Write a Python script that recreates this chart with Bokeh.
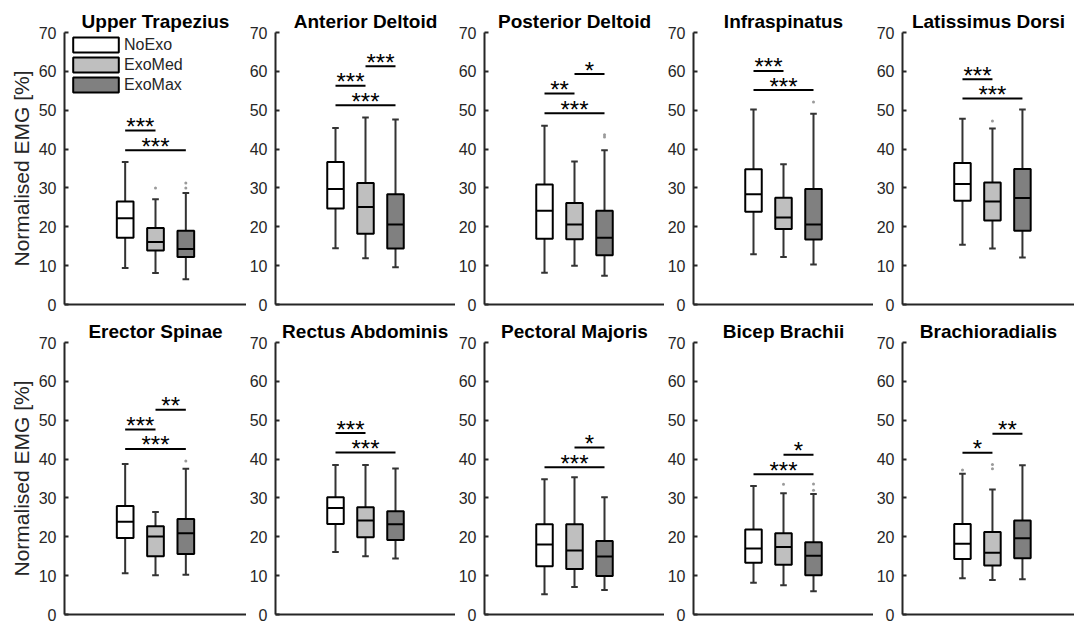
from bokeh.plotting import figure
from bokeh.layouts import column, row
from bokeh.models import ColumnDataSource, Legend, LegendItem, FixedTicker, Range1d
from bokeh.core.properties import value
from bokeh.embed import file_html
from bokeh.resources import INLINE

# ---------------- data ----------------
muscles = ["Upper Trapezius", "Anterior Deltoid", "Posterior Deltoid", "Infraspinatus",
           "Latissimus Dorsi", "Erector Spinae", "Rectus Abdominis", "Pectoral Majoris",
           "Bicep Brachii", "Brachioradialis"]
conditions = ["NoExo", "ExoMed", "ExoMax"]
positions = [2, 3, 4]

# per muscle: [NoExo, ExoMed, ExoMax]
whisker_low = [[9.4, 8.1, 6.5], [14.5, 11.9, 9.6], [8.2, 10.0, 7.4], [12.9, 12.2, 10.3],
               [15.4, 14.4, 12.1], [10.6, 10.1, 10.2], [16.1, 15.0, 14.4], [5.2, 7.1, 6.3],
               [8.2, 7.5, 6.0], [9.3, 8.9, 9.1]]
q1 = [[17.2, 13.9, 12.2], [24.7, 18.2, 14.4], [16.9, 16.8, 12.7], [23.9, 19.4, 16.7],
      [26.7, 21.6, 19.0], [19.7, 15.0, 15.6], [23.3, 19.9, 19.2], [12.4, 11.7, 9.9],
      [13.3, 12.8, 10.1], [14.3, 12.6, 14.5]]
median = [[22.2, 16.1, 14.3], [29.7, 25.1, 20.6], [24.1, 20.6, 17.2], [28.4, 22.4, 20.6],
          [31.0, 26.5, 27.4], [23.9, 20.1, 20.9], [27.4, 24.2, 23.2], [18.0, 16.5, 14.9],
          [17.0, 17.4, 15.1], [18.2, 15.9, 19.6]]
q3 = [[26.5, 19.7, 19.0], [36.7, 31.3, 28.4], [30.9, 26.1, 24.1], [34.8, 27.5, 29.7],
      [36.4, 31.4, 34.9], [27.9, 22.7, 24.6], [30.2, 27.6, 26.6], [23.2, 23.2, 18.9],
      [21.9, 20.9, 18.6], [23.3, 21.2, 24.2]]
whisker_high = [[36.7, 27.1, 28.7], [45.4, 48.1, 47.6], [46.0, 36.8, 39.7], [50.2, 36.1, 49.1],
                [47.8, 45.3, 50.2], [38.7, 26.4, 37.5], [38.5, 38.5, 37.6], [34.8, 35.3, 30.2],
                [33.1, 31.2, 31.0], [36.2, 32.2, 38.4]]
# outliers: (muscle index, condition index, value)
outliers = [(0, 1, 30.0), (0, 2, 31.3), (0, 2, 30.0), (2, 2, 43.7), (2, 2, 43.1),
            (3, 2, 52.1), (4, 1, 47.2), (5, 2, 39.5), (8, 1, 33.5), (8, 2, 33.6),
            (8, 2, 32.0), (9, 0, 37.2), (9, 1, 38.6), (9, 1, 37.5)]
# significance bars: (muscle index, from condition, to condition, level, label)
sig_bars = [(0, 0, 1, 44.8, "***"), (0, 0, 2, 39.7, "***"),
            (1, 0, 1, 56.3, "***"), (1, 1, 2, 61.3, "***"), (1, 0, 2, 51.3, "***"),
            (2, 0, 1, 54.3, "**"), (2, 1, 2, 59.3, "*"), (2, 0, 2, 49.2, "***"),
            (3, 0, 1, 60.1, "***"), (3, 0, 2, 55.2, "***"),
            (4, 0, 1, 58.0, "***"), (4, 0, 2, 53.0, "***"),
            (5, 0, 1, 47.6, "***"), (5, 1, 2, 52.7, "**"), (5, 0, 2, 42.6, "***"),
            (6, 0, 1, 46.7, "***"), (6, 0, 2, 41.7, "***"),
            (7, 1, 2, 43.0, "*"), (7, 0, 2, 37.9, "***"),
            (8, 1, 2, 41.1, "*"), (8, 0, 2, 36.1, "***"),
            (9, 0, 1, 41.6, "*"), (9, 1, 2, 46.5, "**")]
y_ticks = [0, 10, 20, 30, 40, 50, 60, 70]

# ---------------- style ----------------
fills = ["#ffffff", "#bfbfbf", "#808080"]
AX = "#262626"
FONT = "Liberation Sans"
BOX_W = 0.55
CAP_W = 0.22
FRAME_W = 182
FRAME_H = 272


def make_panel(k):
    col, rw = k % 5, k // 5
    first, last = col == 0, col == 4
    frame_w = 174 if last else FRAME_W
    left = 64 if first else 27
    top = 32 if rw == 0 else 27
    bottom = 11 if rw == 0 else 9
    p = figure(width=left + frame_w, height=top + FRAME_H + bottom,
               x_range=Range1d(0, 6 * frame_w / FRAME_W), y_range=Range1d(0, 70),
               output_backend="svg", toolbar_location=None,
               min_border_left=left, min_border_right=0,
               min_border_top=top, min_border_bottom=bottom, title=muscles[k])
    p.grid.visible = False
    p.outline_line_color = None
    p.background_fill_color = None
    p.border_fill_color = None
    p.title.align = "center"
    p.title.text_font = FONT
    p.title.text_font_size = "19px"
    p.title.text_font_style = "bold"
    p.title.text_color = "#000000"
    p.title.standoff = 2

    ya = p.yaxis[0]
    ya.ticker = FixedTicker(ticks=y_ticks)
    ya.major_tick_in = 4
    ya.major_tick_out = 0
    ya.minor_tick_line_color = None
    ya.axis_line_width = 2
    ya.axis_line_color = AX
    ya.major_tick_line_color = AX
    ya.major_tick_line_width = 2
    ya.major_label_text_font = FONT
    ya.major_label_text_font_size = "16px"
    ya.major_label_text_color = AX
    ya.major_label_standoff = 8
    if first:
        ya.axis_label = "Normalised EMG [%]"
        ya.axis_label_text_font = FONT
        ya.axis_label_text_font_size = "21px"
        ya.axis_label_text_font_style = "normal"
        ya.axis_label_text_color = AX
        ya.axis_label_standoff = 3

    xa = p.xaxis[0]
    xa.ticker = FixedTicker(ticks=[])
    xa.major_tick_in = 0
    xa.major_tick_out = 0
    xa.minor_tick_line_color = None
    xa.major_label_standoff = 0
    xa.axis_line_width = 2
    xa.axis_line_color = AX

    box_renderers = []
    for c in range(3):
        x = positions[c]
        src = ColumnDataSource(dict(
            x=[x], lo=[whisker_low[k][c]], q1=[q1[k][c]], med=[median[k][c]],
            q3=[q3[k][c]], hi=[whisker_high[k][c]],
            xl=[x - BOX_W / 2], xr=[x + BOX_W / 2],
            cl=[x - CAP_W / 2], cr=[x + CAP_W / 2]))
        # whiskers
        p.segment(x0="x", y0="q3", x1="x", y1="hi", source=src, line_color="#333333", line_width=2)
        p.segment(x0="x", y0="q1", x1="x", y1="lo", source=src, line_color="#333333", line_width=2)
        p.segment(x0="cl", y0="hi", x1="cr", y1="hi", source=src, line_color="#333333", line_width=2)
        p.segment(x0="cl", y0="lo", x1="cr", y1="lo", source=src, line_color="#333333", line_width=2)
        # box
        r = p.vbar(x="x", bottom="q1", top="q3", width=BOX_W, source=src,
                   fill_color=fills[c], line_color="#000000", line_width=2)
        box_renderers.append(r)
        p.segment(x0="xl", y0="med", x1="xr", y1="med", source=src, line_color="#000000", line_width=2)

    ox = [positions[c] for (m, c, v) in outliers if m == k]
    oy = [v for (m, c, v) in outliers if m == k]
    if ox:
        p.scatter(ox, oy, size=3, fill_color="#9a9a9a", line_color=None)

    bars = [b for b in sig_bars if b[0] == k]
    if bars:
        bsrc = ColumnDataSource(dict(
            x0=[positions[b[1]] for b in bars], x1=[positions[b[2]] for b in bars],
            y=[b[3] for b in bars],
            xm=[(positions[b[1]] + positions[b[2]]) / 2 for b in bars],
            lab=[b[4] for b in bars]))
        p.segment(x0="x0", y0="y", x1="x1", y1="y", source=bsrc, line_color="#000000", line_width=2)
        p.text(x="xm", y="y", text="lab", source=bsrc, text_align="center",
               text_baseline="alphabetic", y_offset=-4, text_font=value(FONT),
               text_font_size="24px", text_color="#000000")

    if k == 0:
        legend = Legend(items=[LegendItem(label=conditions[c], renderers=[box_renderers[c]])
                               for c in range(3)],
                        location="top_left")
        legend.margin = 3
        legend.padding = 0
        legend.border_line_color = None
        legend.background_fill_alpha = 0
        legend.glyph_width = 57
        legend.glyph_height = 19
        legend.label_height = 19
        legend.spacing = 1
        legend.label_standoff = 0
        legend.label_text_font = FONT
        legend.label_text_font_size = "16px"
        legend.label_text_color = AX
        p.add_layout(legend)
    return p


figs = [make_panel(k) for k in range(10)]
layout = column(row(*figs[:5]), row(*figs[5:]))
open("out.html", "w").write(file_html(layout, INLINE))
